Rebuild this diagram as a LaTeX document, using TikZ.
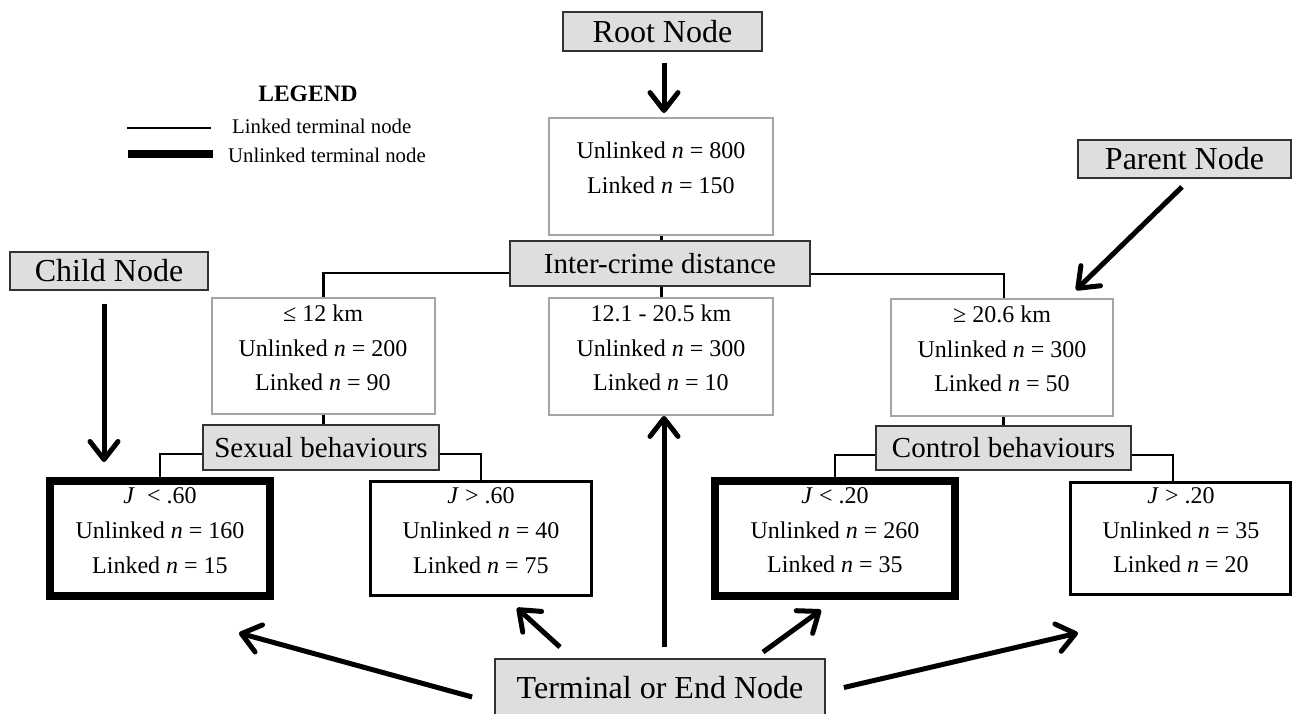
\documentclass[tikz,border=0pt]{standalone}
\usepackage{fontspec}
\setmainfont{Liberation Serif}
\usetikzlibrary{arrows.meta,calc}
\definecolor{labfill}{RGB}{221,222,221}
\definecolor{labdraw}{RGB}{50,50,50}
\definecolor{boxdraw}{RGB}{165,165,165}
\begin{document}
\begin{tikzpicture}[x=1pt,y=-1pt,
  lab/.style={draw=labdraw, fill=labfill, line width=1.8pt, inner sep=0pt, font=\fontsize{32}{38}\selectfont},
  splitlab/.style={draw=labdraw, fill=labfill, line width=1.8pt, inner sep=0pt, font=\fontsize{29}{34}\selectfont},
  databox/.style={draw=boxdraw, line width=1.8pt, inner sep=0pt},
  termthin/.style={draw=black, line width=3pt, inner sep=0pt},
  termthick/.style={draw=black, line width=8pt, inner sep=0pt},
  txt/.style={font=\fontsize{24}{30}\selectfont, inner sep=0pt, anchor=base},
  legtxt/.style={font=\fontsize{20.8}{25}\selectfont, inner sep=0pt, anchor=base west},
  link/.style={draw=black, line width=2.5pt},
  bigarrow/.style={draw=black, line width=5pt, -{Straight Barb[length=18pt,width=28pt,round]}},
]
\useasboundingbox (0,0) rectangle (1294,714);

% legend
\node[font=\bfseries\fontsize{23.5}{28}\selectfont, inner sep=0pt, anchor=base] (legend) at (308,102) {LEGEND};
\coordinate (l1a) at (127,128); \coordinate (l1b) at (211,128);
\coordinate (l2a) at (128,154); \coordinate (l2b) at (213,154);
\draw[line width=2.5pt] (l1a) -- (l1b);
\draw[line width=8pt] (l2a) -- (l2b);
\node[legtxt] (leg1) at (232,134) {Linked terminal node};
\node[legtxt] (leg2) at (228,163) {Unlinked terminal node};

% label boxes
\node[lab, minimum width=199pt, minimum height=39pt] (rootlab) at (662.5,31.5) {Root Node};
\node[lab, minimum width=213pt, minimum height=38pt] (parentlab) at (1184.5,159) {Parent Node};
\node[lab, minimum width=198pt, minimum height=38pt] (childlab) at (109,271) {Child Node};
\node[lab, minimum width=330pt, minimum height=57pt] (term) at (660,687.5) {Terminal or End Node};

% data boxes
\node[databox, minimum width=224pt, minimum height=117pt] (root) at (661,176.5) {};
\node[txt] (rootA) at (661,159) {Unlinked \textit{n} = 800};
\node[txt] (rootB) at (661,194) {Linked \textit{n} = 150};

\node[splitlab, minimum width=300pt, minimum height=45pt] (inter) at (660,263.5) {Inter-crime distance};

\node[databox, minimum width=223pt, minimum height=116pt] (le) at (323.5,356) {};
\node[txt] (leA) at (323,322) {≤ 12 km};
\node[txt] (leB) at (323,356) {Unlinked \textit{n} = 200};
\node[txt] (leC) at (323,390) {Linked \textit{n} = 90};

\node[databox, minimum width=224pt, minimum height=117pt] (mid) at (661,356.5) {};
\node[txt] (midA) at (661,322) {12.1 - 20.5 km};
\node[txt] (midB) at (661,356) {Unlinked \textit{n} = 300};
\node[txt] (midC) at (661,390) {Linked \textit{n} = 10};

\node[databox, minimum width=222pt, minimum height=117pt] (ge) at (1002,357.5) {};
\node[txt] (geA) at (1002,323) {≥ 20.6 km};
\node[txt] (geB) at (1002,357) {Unlinked \textit{n} = 300};
\node[txt] (geC) at (1002,391) {Linked \textit{n} = 50};

\node[splitlab, minimum width=236pt, minimum height=45pt] (sexual) at (321,447.5) {Sexual behaviours};
\node[splitlab, minimum width=255pt, minimum height=44pt] (control) at (1003.5,448) {Control behaviours};

% terminal boxes
\node[termthick, minimum width=220pt, minimum height=115pt] (tA) at (160,538.5) {};
\node[txt] (tAa) at (160,503) {\textit{J}~~< .60};
\node[txt] (tAb) at (160,538) {Unlinked \textit{n} = 160};
\node[txt] (tAc) at (160,573) {Linked \textit{n} = 15};

\node[termthin, minimum width=221pt, minimum height=114pt] (tB) at (481,538.5) {};
\node[txt] (tBa) at (481,503) {\textit{J} > .60};
\node[txt] (tBb) at (481,538) {Unlinked \textit{n} = 40};
\node[txt] (tBc) at (481,573) {Linked \textit{n} = 75};

\node[termthick, minimum width=240pt, minimum height=115pt] (tC) at (835,538.5) {};
\node[txt] (tCa) at (835,503) {\textit{J} < .20};
\node[txt] (tCb) at (835,538) {Unlinked \textit{n} = 260};
\node[txt] (tCc) at (835,572) {Linked \textit{n} = 35};

\node[termthin, minimum width=220pt, minimum height=112pt] (tD) at (1180.5,538.5) {};
\node[txt] (tDa) at (1181,503) {\textit{J} > .20};
\node[txt] (tDb) at (1181,538) {Unlinked \textit{n} = 35};
\node[txt] (tDc) at (1181,572) {Linked \textit{n} = 20};

% tree connectors
\draw[link, line width=3pt] (root.south) -- (root.south |- inter.north);
\draw[link] ([yshift=-9.5pt]inter.west) -| (le.north);
\draw[link] ([yshift=-10.5pt]inter.east) -| ([xshift=2pt]ge.north);
\draw[link, line width=3pt] (mid.north |- inter.south) -- (mid.north);
\draw[link, line width=3pt] (le.south) -- (le.south |- sexual.north);
\draw[link, line width=3pt] ([xshift=1pt]ge.south) -- ([xshift=1pt]ge.south |- control.north);
\draw[link] ([yshift=-6.5pt]sexual.west) -| (tA.north);
\draw[link] ([yshift=-6.5pt]sexual.east) -| (tB.north);
\draw[link] ([yshift=-7pt]control.west) -| (tC.north);
\draw[link] ([yshift=-7pt]control.east) -| ([xshift=-7.5pt]tD.north);

% annotation arrows
\coordinate (childtip) at (104,462);
\coordinate (parenttip) at (1076,290);
\coordinate (tipA) at (239,633);
\coordinate (tipB) at (517,608);
\coordinate (tipC) at (821,610);
\coordinate (tipD) at (1078,633);
\draw[bigarrow, shorten <=11pt, shorten >=4pt] ([xshift=1.5pt]rootlab.south) -- ([xshift=3pt]root.north);
\draw[bigarrow] ($(childlab.south)+(-5,13)$) -- (childtip);
\draw[bigarrow] ($(parentlab.south)+(-2.5,8)$) -- (parenttip);
\draw[bigarrow] ($(term.west)+(-22,9.5)$) -- (tipA);
\draw[bigarrow] ($(term.north)+(-100,-11)$) -- (tipB);
\draw[bigarrow] ($(term.north)+(4,-11)$) -- ([xshift=3pt]mid.south);
\draw[bigarrow] ($(term.north)+(103,-6)$) -- (tipC);
\draw[bigarrow] ($(term.east)+(18,0)$) -- (tipD);
\end{tikzpicture}
\end{document}
